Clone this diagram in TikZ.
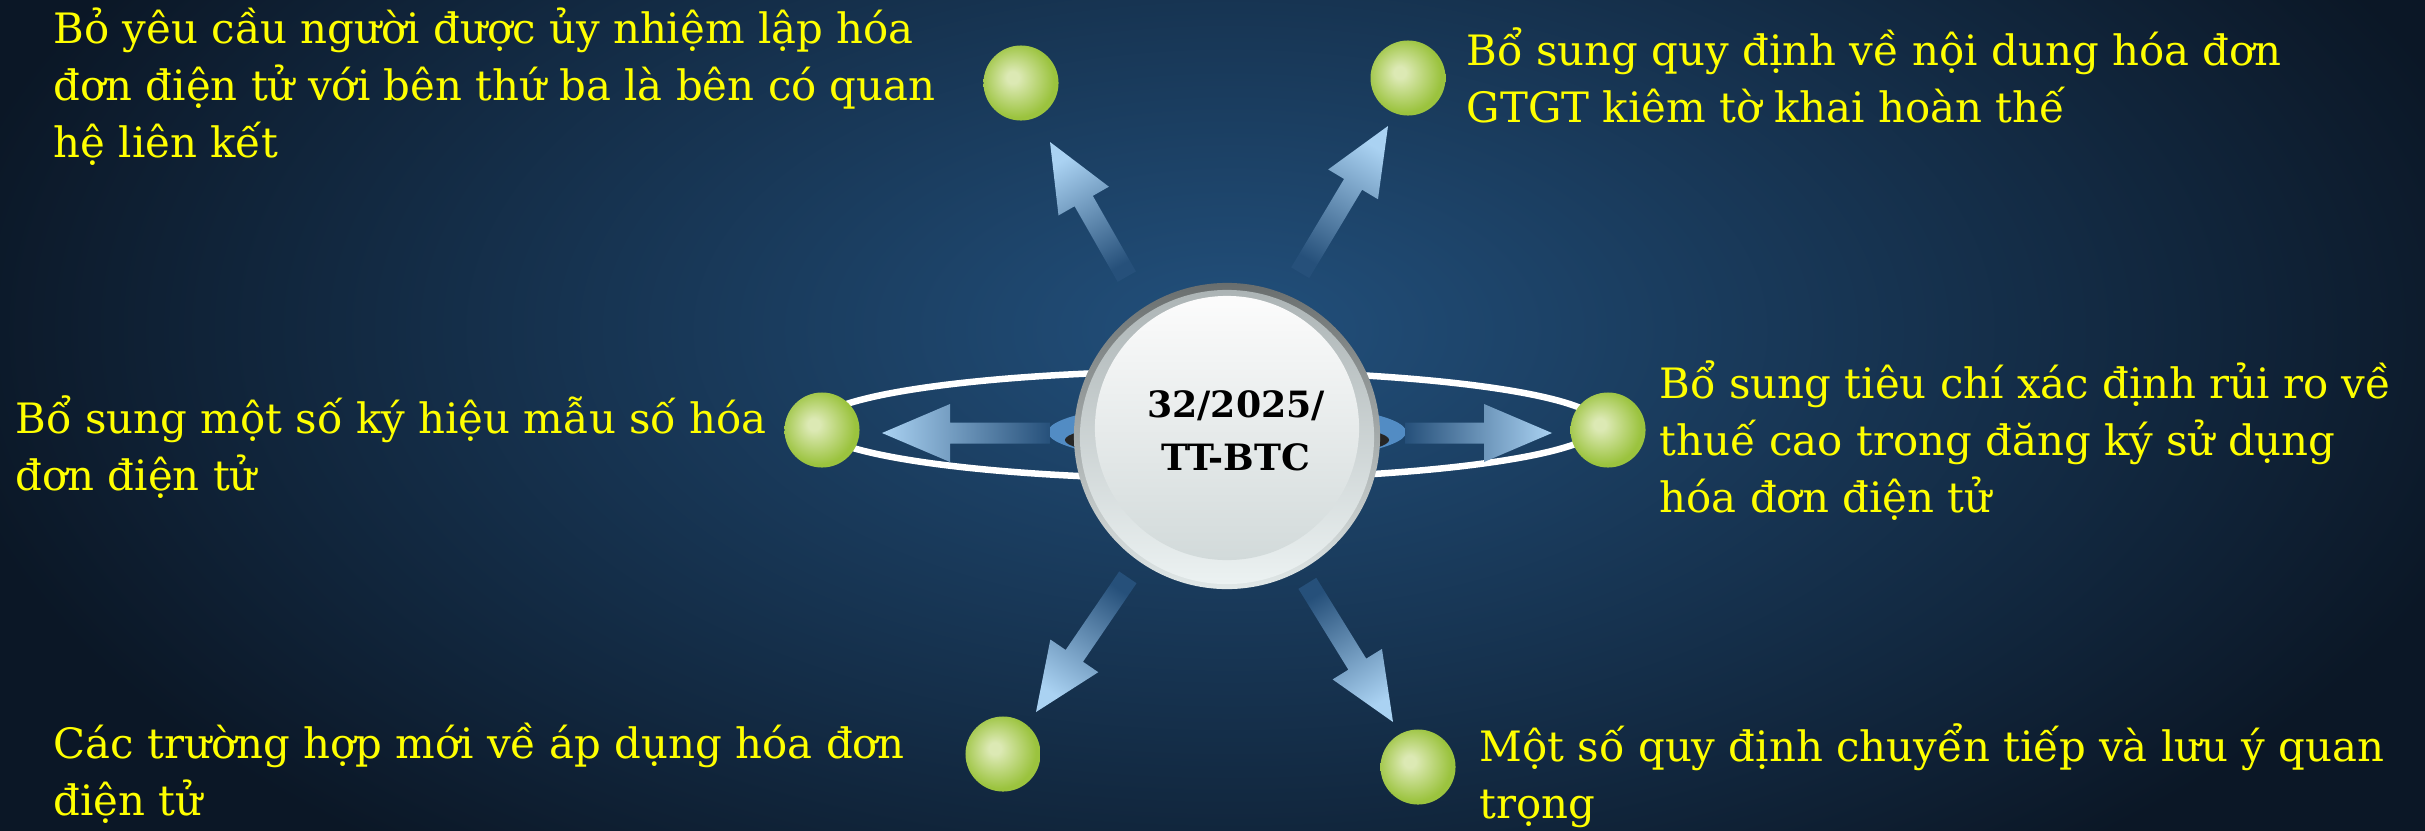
\documentclass[tikz,border=0pt]{standalone}
\usepackage{fontspec}
\setmainfont{DejaVu Serif}
\usetikzlibrary{calc}
\definecolor{bgin}{RGB}{34,80,124}
\definecolor{bgout}{RGB}{11,23,38}
\definecolor{txt}{RGB}{255,255,0}
\definecolor{ballhi}{RGB}{220,233,180}
\definecolor{ballout}{RGB}{155,195,62}
\definecolor{arrtip}{RGB}{170,210,242}
\definecolor{arrmid}{RGB}{95,140,184}
\definecolor{arrtail}{RGB}{38,80,122}
\definecolor{glow}{RGB}{82,140,196}
\definecolor{rimtop}{RGB}{105,110,110}
\definecolor{rimbot}{RGB}{225,232,232}
\definecolor{bandtop}{RGB}{172,180,181}
\definecolor{bandbot}{RGB}{236,242,242}
\definecolor{facetop}{RGB}{252,252,252}
\definecolor{facebot}{RGB}{210,218,218}
\pgfdeclareradialshading{greenball}{\pgfpoint{-6bp}{4bp}}{color(0bp)=(ballhi); color(4bp)=(ballhi); color(25bp)=(ballout); color(50bp)=(ballout)}
\newcommand\blockarrow[3]{%
  \pgfmathsetmacro\shang{#2-90}%
  \begin{scope}[shift={(#1)}, rotate=#2]
    \shade[top color=arrtip, middle color=arrmid, bottom color=arrtail, shading angle=\shang]
      (0,0) -- (-68,29) -- (-68,10.5) -- (-#3,10.5) -- (-#3,-10.5) -- (-68,-10.5) -- (-68,-29) -- cycle;
  \end{scope}}
\tikzset{
  ball/.style={circle, minimum size=0.75cm, inner sep=0pt, shade, shading=greenball},
  labeltext/.style={text=txt, anchor=base west, align=left, inner sep=0pt,
    font=\fontsize{11.9}{16.2}\selectfont},
  hubtext/.style={text=black, anchor=base, align=center, inner sep=0pt,
    font=\bfseries\fontsize{10.3}{14.8}\selectfont},
}
\begin{document}
\begin{tikzpicture}[x=0.01cm, y=-0.01cm]
\useasboundingbox (0,0) rectangle (2425,830);
% background
\begin{scope}
\clip (-20,-20) rectangle (2445,850);
\fill[bgout] (-20,-20) rectangle (2445,850);
\shade[inner color=bgin, outer color=bgout] (1230,330) ellipse (13cm and 6.8cm);
\end{scope}
% glow under hub
\fill[glow] (1227,432) ellipse (1.79cm and 0.31cm);
\fill[black!85] (1227,440) ellipse (1.62cm and 0.2cm);
% ring
\draw[white, line width=0.065cm] (1208,425) ellipse (3.92cm and 0.54cm);
% arrow tips
\coordinate (tipUL) at (1050,142);
\coordinate (tipUR) at (1388,126);
\coordinate (tipLL) at (1036,712);
\coordinate (tipLR) at (1393,722);
\coordinate (tipL) at (882,433);
\coordinate (tipR) at (1552,433);
\blockarrow{tipUL}{119.7}{155}
\blockarrow{tipUR}{59.1}{171}
\blockarrow{tipLL}{-124.3}{163}
\blockarrow{tipLR}{-58.3}{163}
\blockarrow{tipL}{180}{168}
\blockarrow{tipR}{0}{147}
% hub
\node[circle, minimum size=3.06cm, inner sep=0pt, top color=rimtop, bottom color=rimbot] (hub) at (1227,436) {};
\node[circle, minimum size=2.94cm, inner sep=0pt, top color=bandtop, bottom color=bandbot] (hubband) at (1227,437) {};
\node[circle, minimum size=2.64cm, inner sep=0pt, top color=facetop, bottom color=facebot] (hubface) at (1227,428) {};
\node[hubtext] (hubt) at (1236,470) {32/2025/\\TT-BTC};
% balls
\node[ball] (bUL) at (1021,83) {};
\node[ball] (bUR) at (1408,78) {};
\node[ball] (bL) at (822,430) {};
\node[ball] (bR) at (1608,430) {};
\node[ball] (bLL) at (1003,754) {};
\node[ball] (bLR) at (1418,767) {};
% labels (anchor is the baseline of the last line)
\node[labeltext] (tUL) at (53,157) {Bỏ yêu cầu người được ủy nhiệm lập hóa\\đơn điện tử với bên thứ ba là bên có quan\\hệ liên kết};
\node[labeltext] (tUR) at (1466,122) {Bổ sung quy định về nội dung hóa đơn\\GTGT kiêm tờ khai hoàn thế};
\node[labeltext] (tL) at (15,490) {Bổ sung một số ký hiệu mẫu số hóa\\đơn điện tử};
\node[labeltext] (tR) at (1659,512) {Bổ sung tiêu chí xác định rủi ro về\\thuế cao trong đăng ký sử dụng\\hóa đơn điện tử};
\node[labeltext] (tLL) at (53,815) {Các trường hợp mới về áp dụng hóa đơn\\điện tử};
\node[labeltext] (tLR) at (1479,818) {Một số quy định chuyển tiếp và lưu ý quan\\trọng};
\end{tikzpicture}
\end{document}
